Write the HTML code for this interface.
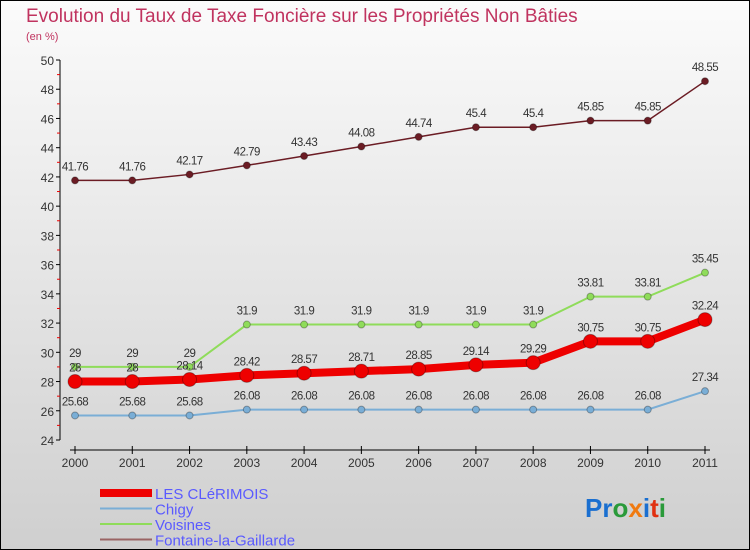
<!DOCTYPE html>
<html><head><meta charset="utf-8"><style>
body{margin:0}
#c{width:750px;height:550px;position:relative;box-sizing:border-box;border:1px solid #000;background:linear-gradient(#fbfbfb,#cfcfcf);font-family:"Liberation Sans",sans-serif;overflow:hidden}
</style></head><body>
<div id="c">
<svg width="750" height="550" style="position:absolute;left:-1px;top:-1px" id="svg">
<text x="26" y="22" font-size="19" fill="#c0335f">Evolution du Taux de Taxe Foncière sur les Propriétés Non Bâties</text>
<text x="26" y="40" font-size="11" fill="#c0335f">(en %)</text>
<g id="axes"></g><g id="series"></g><g id="legend"></g>
<text x="585" y="517" font-size="26" font-weight="bold"><tspan fill="#1a6fd0">Pr</tspan><tspan fill="#2a9a3a">o</tspan><tspan fill="#f07a10">x</tspan><tspan fill="#1a6fd0">i</tspan><tspan fill="#e03010">t</tspan><tspan fill="#2a9a3a">i</tspan></text>
</svg>
</div>
<script>
const years=[2000,2001,2002,2003,2004,2005,2006,2007,2008,2009,2010,2011];
const yTicks=[24,26,28,30,32,34,36,38,40,42,44,46,48,50];
const clerimois=[28,28,28.14,28.42,28.57,28.71,28.85,29.14,29.29,30.75,30.75,32.24];
const chigy=[25.68,25.68,25.68,26.08,26.08,26.08,26.08,26.08,26.08,26.08,26.08,27.34];
const voisines=[29,29,29,31.9,31.9,31.9,31.9,31.9,31.9,33.81,33.81,35.45];
const fontaine=[41.76,41.76,42.17,42.79,43.43,44.08,44.74,45.4,45.4,45.85,45.85,48.55];
const NS="http://www.w3.org/2000/svg";
const X=i=>75+i*(630/11);
const Y=v=>440-(v-24)*(380/26);
function mk(t,a,p){const e=document.createElementNS(NS,t);for(const k in a)e.setAttribute(k,a[k]);p.appendChild(e);return e;}
const ax=document.getElementById('axes');
let l=mk('line',{x1:60,y1:60,x2:60,y2:440,stroke:'#000'},ax);


l=mk('line',{x1:70,y1:450,x2:710,y2:450,stroke:'#000'},ax);


yTicks.forEach(v=>{
 mk('line',{x1:56,y1:Y(v),x2:60,y2:Y(v),stroke:'#000'},ax);
 if(v<50) mk('line',{x1:57,y1:Y(v+1),x2:60,y2:Y(v+1),stroke:'#e00'},ax);
 const t=mk('text',{x:54,y:Y(v)+5,'font-size':12,fill:'#333','text-anchor':'end'},ax);t.textContent=v;
 
 
});
years.forEach((y,i)=>{
 mk('line',{x1:X(i),y1:446,x2:X(i),y2:454,stroke:'#000'},ax);
 const t=mk('text',{x:X(i),y:467,'font-size':12,fill:'#333','text-anchor':'middle'},ax);t.textContent=y;
 
 
});
const S=document.getElementById('series');
function series(d,col,w,r,name){
 const g=mk('g',{},S);
 
 
 mk('polyline',{points:d.map((v,i)=>X(i)+','+Y(v)).join(' '),fill:'none',stroke:col,'stroke-width':w},g);
 d.forEach((v,i)=>{
  const c=mk('circle',{cx:X(i),cy:Y(v),r:r,fill:col,stroke:'rgba(0,0,0,0.3)'},g);
  
  
  const t=mk('text',{x:X(i),y:Y(v)-10,'font-size':11.5,fill:'#333','text-anchor':'middle','letter-spacing':'-0.5'},g);
  t.textContent=String(v);
  
  
 });
}
series(fontaine,'#6b1c24',1.5,3.5,'fontaine');
series(voisines,'#8fdc5a',2,3.5,'voisines');
series(chigy,'#7aaed6',2,3.5,'chigy');
series(clerimois,'#ee0000',8,7,'clerimois');
const L=document.getElementById('legend');
[['LES CLéRIMOIS','#ee0000',8],['Chigy','#7aaed6',2],['Voisines','#8fdc5a',2],['Fontaine-la-Gaillarde','#9a6464',2]].forEach((e,i)=>{
 const y=493+i*15.5;
 const g=mk('g',{},L);
 
 
 mk('line',{x1:100,y1:y,x2:152,y2:y,stroke:e[1],'stroke-width':e[2]},g);
 const t=mk('text',{x:155,y:y+6,'font-size':15,fill:'#5a5aff'},g);t.textContent=e[0];
});
</script>
</body></html>
